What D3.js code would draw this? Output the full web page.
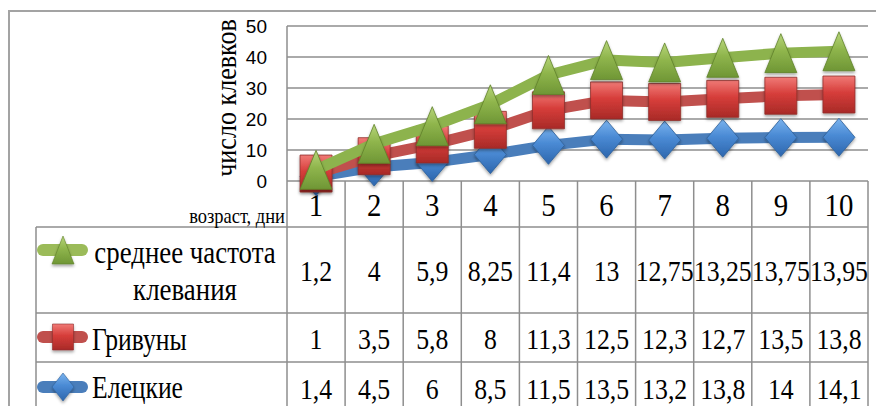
<!DOCTYPE html>
<html><head><meta charset="utf-8">
<script src="https://cdn.jsdelivr.net/npm/d3@7"></script>
<style>body{margin:0;background:#fff}svg{display:block}
.sf{font-family:"Liberation Serif","DejaVu Serif","Times New Roman",serif}
</style>
</head><body>
<svg id="c" width="876" height="406"></svg>
<script>
const days = ["1","2","3","4","5","6","7","8","9","10"];
const seriesNames = ["среднее частота клевания","Гривуны","Елецкие"];
const srednee = [1.2,4,5.9,8.25,11.4,13,12.75,13.25,13.75,13.95];
const grivuny = [1,3.5,5.8,8,11.3,12.5,12.3,12.7,13.5,13.8];
const eletskie = [1.4,4.5,6,8.5,11.5,13.5,13.2,13.8,14,14.1];
const sredneeLabels = ["1,2","4","5,9","8,25","11,4","13","12,75","13,25","13,75","13,95"];
const grivunyLabels = ["1","3,5","5,8","8","11,3","12,5","12,3","12,7","13,5","13,8"];
const eletskieLabels = ["1,4","4,5","6","8,5","11,5","13,5","13,2","13,8","14","14,1"];
const yTicks = [0,10,20,30,40,50];
const yTitle = "число клевков";
const xTitle = "возраст, дни";

const svg = d3.select("#c");
const sans = "'Liberation Sans',Arial,sans-serif";
const gridC = "#8e8e8e";

const defs = svg.append("defs");
function grad(id, c1, c2, c3){
  const g = defs.append("linearGradient").attr("id",id).attr("x1",0).attr("y1",0).attr("x2",0).attr("y2",1);
  g.append("stop").attr("offset","0%").attr("stop-color",c1);
  g.append("stop").attr("offset","45%").attr("stop-color",c2);
  g.append("stop").attr("offset","100%").attr("stop-color",c3);
}
grad("gG","#b7d57a","#8fb54c","#6f9635");
grad("gR","#f07a76","#d63d3a","#a82a27");
grad("gB","#7ab3ee","#4a8ad4","#2d66ad");
const f = defs.append("filter").attr("id","sh").attr("x","-30%").attr("y","-30%").attr("width","160%").attr("height","170%");
f.append("feDropShadow").attr("dx",0).attr("dy",2).attr("stdDeviation",1.5).attr("flood-color","#000").attr("flood-opacity",0.35);

svg.append("path").attr("d","M9,406 V11 H876").attr("fill","none").attr("stroke","#a3a3a3").attr("stroke-width",2);

const x = d3.scaleBand().domain(days).range([287,868]).padding(0);
const y = d3.scaleLinear().domain([0,50]).range([181,26]);
const cx = d => x(d) + x.bandwidth()/2;

svg.append("g").selectAll("line").data(yTicks).join("line")
  .attr("x1",287).attr("x2",868).attr("y1",d=>y(d)).attr("y2",d=>y(d))
  .attr("stroke",gridC).attr("stroke-width",1.5);
svg.append("line").attr("x1",287).attr("x2",287).attr("y1",y(50)).attr("y2",406).attr("stroke",gridC).attr("stroke-width",1.5);

const yAxis = d3.axisLeft(y).tickValues(yTicks).tickSize(0).tickPadding(0).tickFormat(d3.format("d"));
const ya = svg.append("g").attr("transform","translate(267,0)").call(yAxis);
ya.select(".domain").remove();
ya.attr("font-family",null).attr("font-size",null);
ya.selectAll("text").style("font-family",sans).style("font-size","19px").attr("fill","#000").attr("dy","0.36em");

svg.append("text").attr("class","sf").attr("transform","translate(236,98) rotate(-90) scale(0.9,1)")
  .attr("text-anchor","middle").style("font-size","29px").attr("fill","#000").text(yTitle);

const tbl = svg.append("g").attr("stroke",gridC).attr("stroke-width",1.5);
const colEdges = days.map(d=>x(d)).concat([x.range()[1]]);
tbl.selectAll("line.v").data(colEdges.slice(1)).join("line").attr("class","v")
  .attr("x1",d=>d).attr("x2",d=>d).attr("y1",181).attr("y2",406);
const rowLines = [227,313,362];
tbl.selectAll("line.h").data(rowLines).join("line").attr("class","h")
  .attr("x1",36).attr("x2",868).attr("y1",d=>d).attr("y2",d=>d);
tbl.append("line").attr("x1",36).attr("x2",36).attr("y1",227).attr("y2",406);

function txt(g, px, py, s, size, anchor, sx){
  g.append("text").attr("class","sf").attr("transform",`translate(${px},${py}) scale(${sx},1)`)
    .attr("text-anchor",anchor).style("font-size",size+"px").attr("fill","#000").text(s);
}
const tg = svg.append("g");
days.forEach(d=>txt(tg, cx(d), 216, d, 32, "middle", 0.9));
txt(tg, 285, 223, xTitle, 21, "end", 0.88);

const rowsLabels = [sredneeLabels, grivunyLabels, eletskieLabels];
const rowBase = [281, 349, 399];
rowsLabels.forEach((lab,ri)=>{
  lab.forEach((s,i)=>txt(tg, cx(days[i]), rowBase[ri], s, 30, "middle", 0.86));
});

txt(tg, 185, 263, "среднее частота", 32, "middle", 0.84);
txt(tg, 185, 300, "клевания", 32, "middle", 0.84);
txt(tg, 92, 350, seriesNames[1], 32, "start", 0.8);
txt(tg, 92, 398, seriesNames[2], 32, "start", 0.8);

function tri(w,h){return `M0,${-h/2} L${w/2},${h/2} L${-w/2},${h/2} Z`;}
function sq(w,h){return `M${-w/2},${-h/2} H${w/2} V${h/2} H${-w/2} Z`;}
function dia(w,h){return `M0,${-h/2} L${w/2},0 L0,${h/2} L${-w/2},0 Z`;}

const sB = eletskie.slice();
const sR = eletskie.map((v,i)=>v+grivuny[i]);
const sG = sR.map((v,i)=>v+srednee[i]);

const series = [
  {vals:sB, line:"#4a7ebb", fill:"url(#gB)", stroke:"#2f5f97", shape:dia, w:32, h:38},
  {vals:sR, line:"#c0504d", fill:"url(#gR)", stroke:"#8f2e2b", shape:sq, w:32, h:37},
  {vals:sG, line:"#8db34d", fill:"url(#gG)", stroke:"#5f8129", shape:tri, w:32, h:39}
];
const lineGen = d3.line().x((v,i)=>cx(days[i])).y(v=>y(v));
series.forEach(s=>{
  const g = svg.append("g");
  g.append("path").attr("d",lineGen(s.vals)).attr("fill","none").attr("stroke",s.line)
    .attr("stroke-width",11).attr("stroke-linejoin","round");
  g.selectAll("path.m").data(s.vals).join("path").attr("class","m")
    .attr("transform",(v,i)=>`translate(${cx(days[i])},${y(v)})`)
    .attr("d",s.shape(s.w,s.h)).attr("fill",s.fill).attr("stroke",s.stroke).attr("stroke-width",0.8)
    .attr("filter","url(#sh)");
});

const keys = [
  {yy:250, line:"#9bbb59", fill:"url(#gG)", stroke:"#5f8129", shape:tri, w:22, h:28},
  {yy:337, line:"#c0504d", fill:"url(#gR)", stroke:"#8f2e2b", shape:sq, w:21, h:26},
  {yy:387, line:"#4a7ebb", fill:"url(#gB)", stroke:"#2f5f97", shape:dia, w:22, h:28}
];
keys.forEach(k=>{
  svg.append("line").attr("x1",43).attr("x2",82).attr("y1",k.yy).attr("y2",k.yy)
    .attr("stroke",k.line).attr("stroke-width",12).attr("stroke-linecap","round");
  svg.append("path").attr("transform",`translate(63,${k.yy})`).attr("d",k.shape(k.w,k.h))
    .attr("fill",k.fill).attr("stroke",k.stroke).attr("stroke-width",0.6).attr("filter","url(#sh)");
});
</script>
</body></html>
